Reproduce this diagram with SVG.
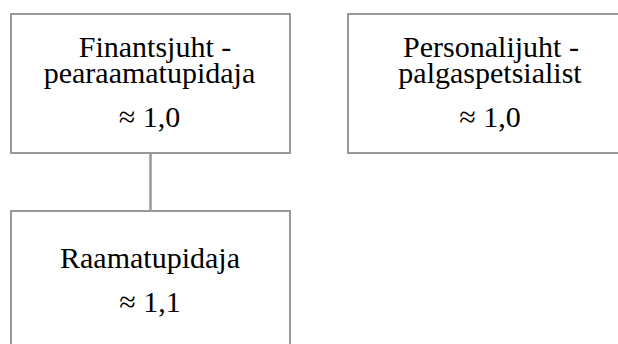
<svg xmlns="http://www.w3.org/2000/svg" width="618" height="344" viewBox="0 0 618 344">
  <style>
    .box { fill: #ffffff; stroke: #999999; stroke-width: 2; }
    .link { stroke: #999999; stroke-width: 2.5; fill: none; }
    .lbl { font-size: 30px; fill: #000000; text-anchor: middle; }
  </style>
  <rect width="618" height="344" fill="#ffffff"/>
  <!-- reporting line -->
  <g id="connectors">
    <line class="link" x1="150.5" y1="153" x2="150.5" y2="211"/>
  </g>
  <g id="finantsjuht" font-family="Liberation Serif, serif">
    <rect class="box" x="11" y="14" width="279" height="139"/>
    <text class="lbl" x="155" y="57">Finantsjuht -</text>
    <text class="lbl" x="149.5" y="83">pearaamatupidaja</text>
    <text class="lbl" x="149.5" y="127">≈ 1,0</text>
  </g>
  <g id="personalijuht" font-family="Liberation Serif, serif">
    <rect class="box" x="348" y="14" width="280" height="139"/>
    <text class="lbl" x="491" y="57">Personalijuht -</text>
    <text class="lbl" x="490" y="83">palgaspetsialist</text>
    <text class="lbl" x="490" y="127">≈ 1,0</text>
  </g>
  <g id="raamatupidaja" font-family="Liberation Serif, serif">
    <rect class="box" x="11" y="211" width="279" height="150"/>
    <text class="lbl" x="150" y="268">Raamatupidaja</text>
    <text class="lbl" x="150" y="312">≈ 1,1</text>
  </g>
</svg>
